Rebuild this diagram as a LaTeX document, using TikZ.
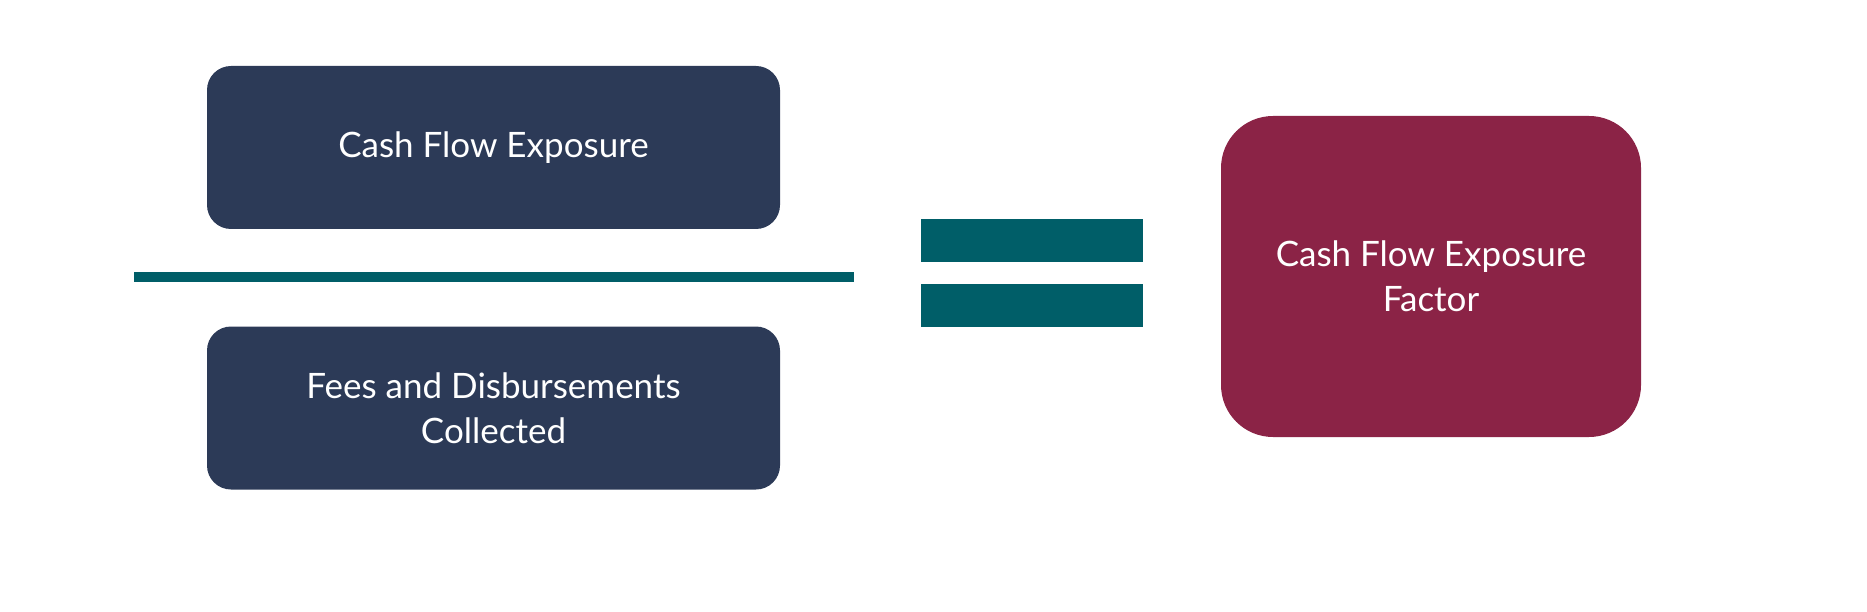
\documentclass[tikz,border=0pt]{standalone}
\usepackage{fontspec}
\setmainfont{Lato}
\usepackage{tikz}
\usetikzlibrary{shapes}
\usetikzlibrary{positioning}
\definecolor{termBody}{rgb}{0.1725,0.2275,0.3412}
\definecolor{barTeal}{rgb}{0,0.3686,0.4078}
\definecolor{resultBody}{rgb}{0.5451,0.1373,0.2745}
\tikzstyle{box} = [rectangle, align=center, text=white,
        font={\fontsize{35}{45}\selectfont}]
\tikzstyle{term} = [box, fill=termBody, rounded corners=24pt,
        minimum width=573pt, minimum height=163pt]
\tikzstyle{result} = [box, fill=resultBody, rounded corners=52pt,
        minimum width=420pt, minimum height=321pt]
\tikzstyle{bar} = [fill=barTeal]

\begin{document}
\begin{tikzpicture}[x=1pt, y=-1pt]
                \useasboundingbox (0,0) rectangle (1867,612);
                \draw
                    (493.5,147.5)
                    node [term] (expo) {Cash Flow Exposure}
                    +(0,260.5)
                    node [term] (fees) {Fees and Disbursements\\Collected}
                    (1431,276.5)
                    node [result] (factor) {Cash Flow Exposure\\Factor};
                % fraction line and equals sign
                \fill[bar] (134,272) rectangle (854,282);
                \fill[bar] (921,219) rectangle (1143,262);
                \fill[bar] (921,284) rectangle (1143,327);
            \end{tikzpicture}
\end{document}
